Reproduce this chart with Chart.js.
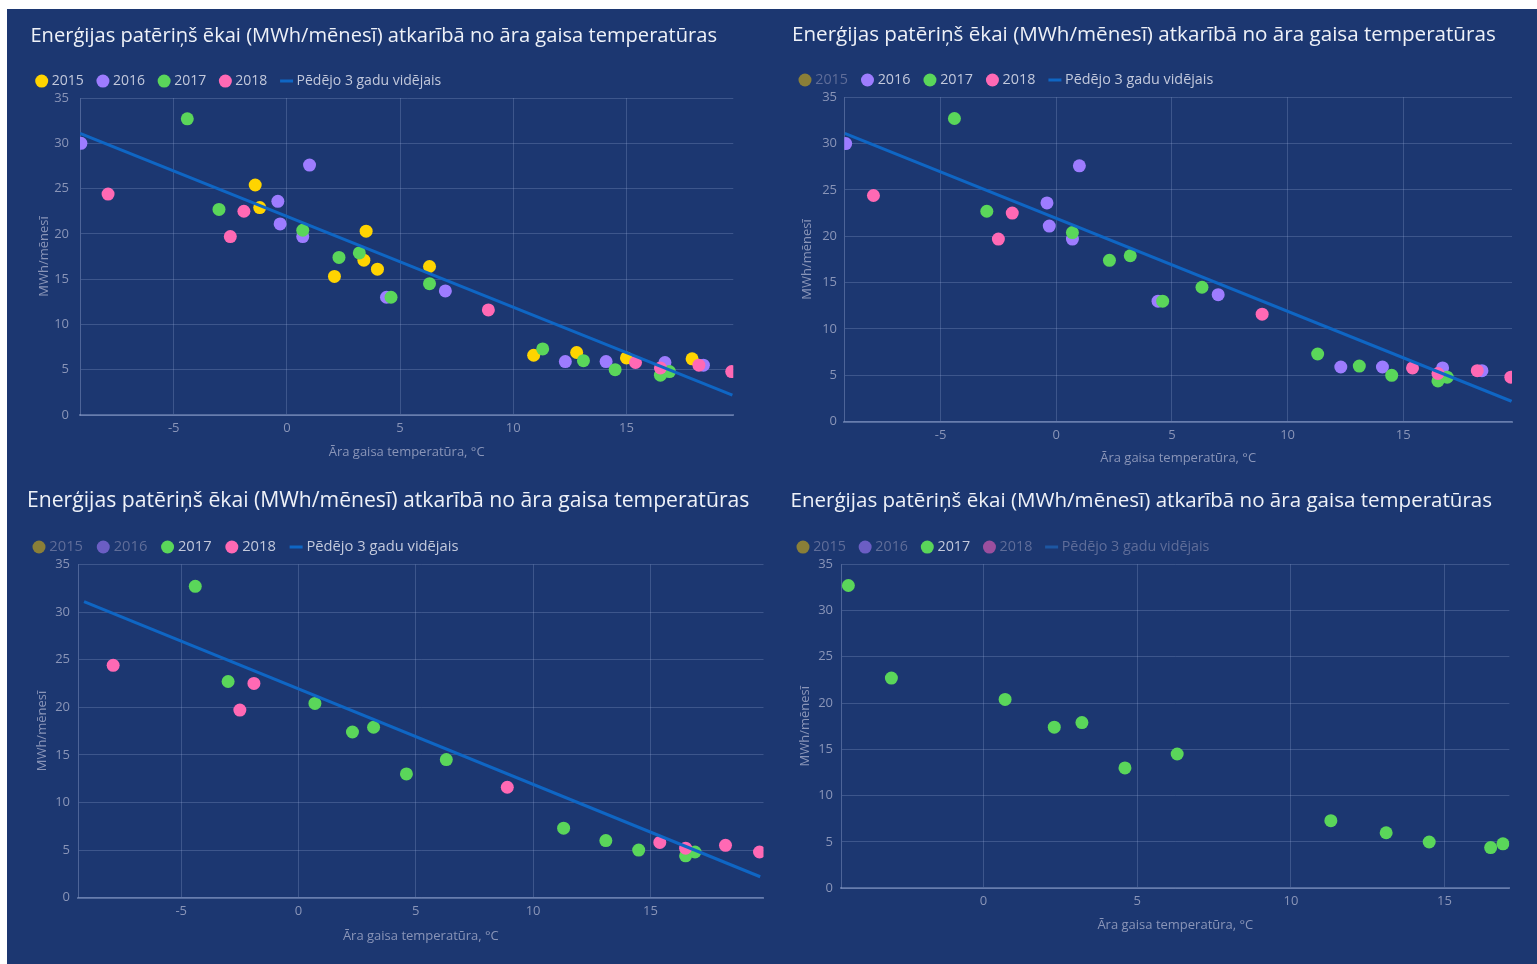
<!DOCTYPE html>
<html>
<head>
<meta charset="utf-8">
<script src="https://cdn.jsdelivr.net/npm/chart.js@4.4.1/dist/chart.umd.min.js"></script>
<style>
  body { margin: 0; background: #ffffff; }
  #board { position: absolute; left: 7px; top: 9px; width: 1530px; height: 955px; background: #1c3771; }
  #board canvas { position: absolute; }
</style>
</head>
<body>
<div id="board">
  <canvas id="c1" width="763" height="461" style="left:0;top:0"></canvas>
  <canvas id="c2" width="767" height="461" style="left:763px;top:0"></canvas>
  <canvas id="c3" width="763" height="494" style="left:0;top:461px"></canvas>
  <canvas id="c4" width="767" height="494" style="left:763px;top:461px"></canvas>
</div>
<script>
// data (temperature °C, MWh per month)
const years = ["2015", "2016", "2017", "2018"];
const trendLabel = "Pēdējo 3 gadu vidējais";

const temp2015 = [-1.4, -1.2, 2.1, 3.4, 3.5, 4.0, 6.3, 10.9, 12.8, 15.0, 17.9];
const energy2015 = [25.4, 22.9, 15.3, 17.1, 20.3, 16.1, 16.4, 6.6, 6.9, 6.3, 6.2];

const temp2016 = [-9.1, -0.4, -0.3, 0.7, 1.0, 4.4, 7.0, 12.3, 14.1, 16.7, 18.4];
const energy2016 = [30.0, 23.6, 21.1, 19.7, 27.6, 13.0, 13.7, 5.9, 5.9, 5.8, 5.5];

const temp2017 = [-4.4, -3.0, 0.7, 2.3, 3.2, 4.6, 6.3, 11.3, 13.1, 14.5, 16.5, 16.9];
const energy2017 = [32.7, 22.7, 20.4, 17.4, 17.9, 13.0, 14.5, 7.3, 6.0, 5.0, 4.4, 4.8];

const temp2018 = [-7.9, -2.5, -1.9, 8.9, 15.4, 16.5, 18.2, 19.65];
const energy2018 = [24.4, 19.7, 22.5, 11.6, 5.8, 5.2, 5.5, 4.8];

const trendTemp = [-9.14, 19.68];
const trendEnergy = [31.1, 2.2];

const yMin = 0, yMax = 35, yStep = 5, xStep = 5;

const yearColors = ["#ffd400", "#9d7cff", "#5ad65a", "#ff69b4"];
const yearDim = ["#8a7f38", "#6b5ec4", "#3f8f4a", "#9b4f9e"];
const trendColor = "#0f66c4";
const trendDim = "#1d57a3";

const titleText = "Enerģijas patēriņš ēkai (MWh/mēnesī) atkarībā no āra gaisa temperatūras";
const font = "'Open Sans', 'Noto Sans', sans-serif";
const gridColor = "rgba(160, 180, 225, 0.25)";
const tickColor = "#8a95b8";

function pts(xs, ys) {
  return xs.map(function (x, i) { return { x: x, y: ys[i] }; });
}

const series = [
  [temp2015, energy2015],
  [temp2016, energy2016],
  [temp2017, energy2017],
  [temp2018, energy2018]
];

function makeChart(id, p) {
  const datasets = years.map(function (yr, i) {
    return {
      label: yr,
      data: pts(series[i][0], series[i][1]),
      backgroundColor: yearColors[i],
      borderColor: yearColors[i],
      pointRadius: 6.5,
      pointHoverRadius: 6.5,
      pointBorderWidth: 0,
      showLine: false,
      hidden: p.hidden.indexOf(yr) >= 0,
      order: 4 - i
    };
  });
  datasets.push({
    label: trendLabel,
    data: pts(trendTemp, trendEnergy),
    borderColor: trendColor,
    backgroundColor: trendColor,
    borderWidth: 3,
    pointRadius: 0,
    showLine: true,
    fill: false,
    hidden: p.hidden.indexOf(trendLabel) >= 0,
    order: 0
  });

  new Chart(document.getElementById(id), {
    type: "scatter",
    data: { datasets: datasets },
    plugins: [{
      id: "legendShift",
      afterLayout: function (chart) { chart.legend.left += p.shift; }
    }],
    options: {
      responsive: false,
      animation: false,
      events: [],
      layout: { padding: { left: p.L, right: p.R, top: 0, bottom: p.B } },
      plugins: {
        tooltip: { enabled: false },
        title: {
          display: true,
          text: titleText,
          align: "start",
          color: "#eef1f8",
          font: { family: font, size: p.ts, weight: "normal" },
          padding: { top: p.tTop, bottom: p.tBottom }
        },
        legend: {
          display: true,
          position: "top",
          align: "start",
          labels: {
            usePointStyle: true,
            boxWidth: 6,
            boxHeight: 9.2,
            padding: p.lp,
            font: { family: font, size: p.lf },
            generateLabels: function (chart) {
              return chart.data.datasets.map(function (ds, i) {
                const isLine = i === years.length;
                const col = ds.hidden ? (isLine ? trendDim : yearDim[i]) : ds.borderColor;
                return {
                  text: ds.label,
                  fillStyle: col,
                  strokeStyle: col,
                  lineWidth: isLine ? 3 : 0,
                  pointStyle: isLine ? "line" : "circle",
                  fontColor: ds.hidden ? "#5f6d99" : "#c3c9dc",
                  hidden: false,
                  datasetIndex: i
                };
              });
            }
          }
        }
      },
      scales: {
        x: {
          type: "linear",
          min: p.xMin,
          max: p.xMax,
          afterFit: function (s) { s.height = p.H; },
          ticks: {
            stepSize: xStep,
            includeBounds: false,
            padding: p.xtp,
            color: tickColor,
            font: { family: font, size: 13 }
          },
          grid: { color: gridColor, drawTicks: false },
          border: { color: "rgba(170, 185, 225, 0.4)", width: 2 },
          title: {
            display: true,
            text: "Āra gaisa temperatūra, °C",
            color: tickColor,
            font: { family: font, size: 13 },
            padding: { top: 0, bottom: p.xpb }
          }
        },
        y: {
          min: yMin,
          max: yMax,
          afterFit: function (s) { s.width = p.W; },
          ticks: {
            stepSize: yStep,
            padding: p.ytp,
            color: tickColor,
            font: { family: font, size: 13 }
          },
          grid: { color: gridColor, drawTicks: false },
          border: { color: "rgba(170, 185, 225, 0.35)", width: 1 },
          title: {
            display: true,
            text: "MWh/mēnesī",
            color: tickColor,
            font: { family: font, size: 13 },
            padding: { top: p.ypt, bottom: 0 }
          }
        }
      }
    }
  });
}

makeChart("c1", { hidden: [], L: 23.4, R: 36.7, B: 9, ts: 20.12, tTop: 15.6, tBottom: 9.1,
  lf: 14, lp: 16.2, shift: -7.9, W: 49.6, H: 46,
  xtp: 5.5, ytp: 11, xpb: 1, ypt: 5.8, xMin: -9.14, xMax: 19.72 });
makeChart("c2", { hidden: ["2015"], L: 22, R: 25, B: 2.3, ts: 20.62, tTop: 13.6, tBottom: 9.0,
  lf: 14.35, lp: 16.5, shift: -6.5, W: 52.3, H: 46,
  xtp: 5.5, ytp: 7.3, xpb: 2, ypt: 7.7, xMin: -9.16, xMax: 19.7 });
makeChart("c3", { hidden: ["2015", "2016"], L: 20, R: 4.5, B: 18.3, ts: 21.17, tTop: 18.3, tBottom: 8.7,
  lf: 14.73, lp: 17.25, shift: -8.25, W: 51.2, H: 48,
  xtp: 6.2, ytp: 8.2, xpb: 1.2, ypt: 7, xMin: -9.39, xMax: 19.82 });
makeChart("c4", { hidden: ["2015", "2016", "2018", trendLabel], L: 20.5, R: 27.6, B: 29.7, ts: 20.56, tTop: 18.7, tBottom: 10.2,
  lf: 14.31, lp: 16.3, shift: -6.8, W: 50.8, H: 46,
  xtp: 5.6, ytp: 8.3, xpb: 1.5, ypt: 6.7, xMin: -4.63, xMax: 17.11 });
</script>
</body>
</html>
